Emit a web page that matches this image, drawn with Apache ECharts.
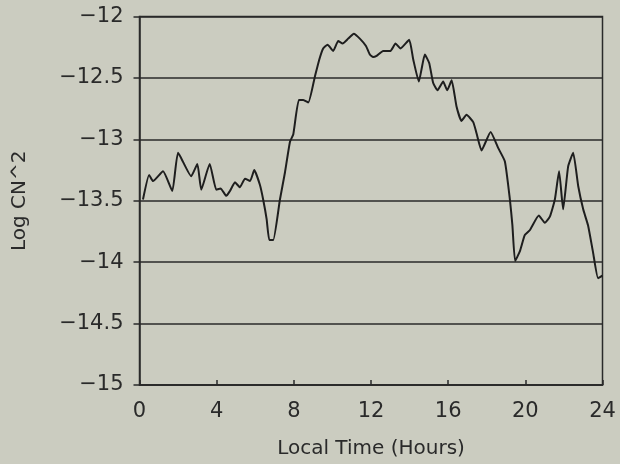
<!DOCTYPE html>
<html>
<head>
<meta charset="utf-8">
<script src="https://cdn.jsdelivr.net/npm/echarts@6/dist/echarts.min.js"></script>
<style>
html,body{margin:0;padding:0;background:#cbccc0;}
#c{width:620px;height:464px;}
</style>
</head>
<body>
<div id="c"></div>
<script>
const hours = [0.18,0.5,0.7,1.22,1.7,2.0,2.68,3.0,3.2,3.64,3.98,4.2,4.5,4.69,4.95,5.2,5.47,5.73,5.95,6.24,6.41,6.59,6.73,6.93,7.28,7.54,7.8,7.97,8.26,8.49,8.75,9.09,9.32,9.52,9.75,10.04,10.3,10.53,10.82,11.11,11.42,11.74,11.94,12.11,12.29,12.63,13.01,13.27,13.53,13.98,14.19,14.48,14.62,14.79,15.02,15.22,15.45,15.74,15.95,16.18,16.43,16.69,16.95,17.3,17.47,17.73,18.2,18.59,18.94,19.2,19.33,19.47,19.72,19.97,20.23,20.7,21.01,21.27,21.53,21.75,21.96,22.22,22.48,22.74,23.0,23.25,23.51,23.77,24.0];
const logCn2 = [-13.49,-13.29,-13.34,-13.26,-13.42,-13.11,-13.30,-13.20,-13.41,-13.20,-13.41,-13.40,-13.46,-13.42,-13.35,-13.39,-13.32,-13.34,-13.25,-13.37,-13.49,-13.65,-13.82,-13.82,-13.49,-13.27,-13.02,-12.96,-12.68,-12.68,-12.70,-12.49,-12.35,-12.26,-12.23,-12.28,-12.20,-12.22,-12.18,-12.14,-12.18,-12.24,-12.31,-12.33,-12.32,-12.28,-12.28,-12.22,-12.26,-12.19,-12.35,-12.53,-12.43,-12.31,-12.38,-12.54,-12.60,-12.53,-12.60,-12.52,-12.73,-12.85,-12.80,-12.86,-12.95,-13.09,-12.94,-13.07,-13.18,-13.49,-13.70,-13.99,-13.91,-13.78,-13.74,-13.62,-13.68,-13.63,-13.49,-13.26,-13.57,-13.22,-13.11,-13.38,-13.57,-13.70,-13.92,-14.13,-14.11];
const xTitle = 'Local Time (Hours)';
const yTitle = 'Log CN^2';

const chart = echarts.init(document.getElementById('c'));
const font = 'DejaVu Sans';
chart.setOption({
  backgroundColor: '#cbccc0',
  animation: false,
  grid: {left: 139.5, right: 17.5, top: 16.5, bottom: 78, show: true, borderColor: '#2a2a2a', borderWidth: 1.5, backgroundColor: 'transparent'},
  xAxis: {
    type: 'value', min: 0, max: 24, interval: 4,
    name: xTitle, nameLocation: 'middle', nameGap: 54,
    nameTextStyle: {fontFamily: font, fontSize: 20, color: '#2a2a2a'},
    axisLine: {show: true, lineStyle: {color: '#2a2a2a', width: 1.5}},
    axisTick: {show: true, inside: true, length: 5, lineStyle: {color: '#2a2a2a', width: 1.5}},
    axisLabel: {fontFamily: font, fontSize: 21, color: '#2a2a2a', margin: 16},
    splitLine: {show: false}
  },
  yAxis: {
    type: 'value', min: -15, max: -12, interval: 0.5,
    name: yTitle, nameLocation: 'middle', nameGap: 110, nameRotate: 90,
    nameTextStyle: {fontFamily: font, fontSize: 20, color: '#2a2a2a'},
    axisLine: {show: true, lineStyle: {color: '#2a2a2a', width: 1.5}},
    axisTick: {show: true, inside: false, length: 6, lineStyle: {color: '#2a2a2a', width: 1.5}},
    axisLabel: {fontFamily: font, fontSize: 21, color: '#2a2a2a', margin: 16,
      formatter: v => String(v).replace('-', '\u2212')},
    splitLine: {show: true, lineStyle: {color: '#2a2a2a', width: 1.5}}
  },
  series: [{
    type: 'line',
    data: hours.map((h, i) => [h, logCn2[i]]),
    showSymbol: false,
    smooth: 0.15,
    lineStyle: {color: '#1e1e1e', width: 2}
  }]
});
</script>
</body>
</html>
